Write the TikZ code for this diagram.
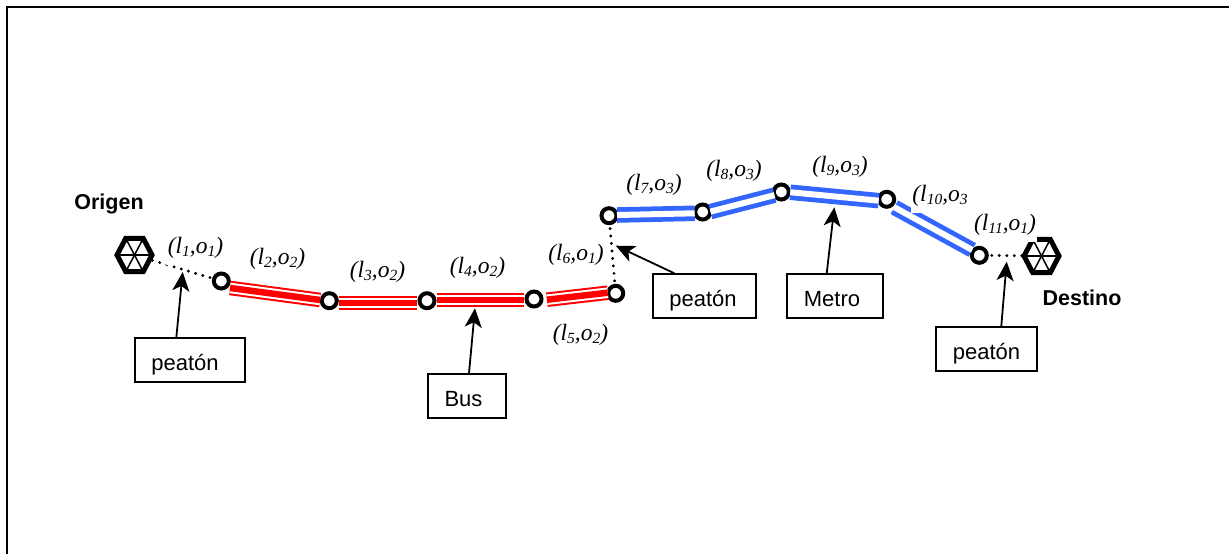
\documentclass[tikz,border=0pt]{standalone}
\usepackage{fontspec}
\setmainfont{Liberation Sans}
\newfontfamily\pairfont{Liberation Serif}
\usetikzlibrary{arrows.meta, shapes.geometric}
\newcommand{\lsub}[1]{\raisebox{-3.5pt}{\fontsize{15.5pt}{15.5pt}\selectfont #1}}
\tikzset{
    stopnode/.style = {circle, draw, fill=white, line width=4pt, minimum size=15pt, inner sep=0pt, outer sep=0pt},
    hexnode/.style = {regular polygon, regular polygon sides=6, draw, line width=5pt, minimum size=35pt, inner sep=0pt, outer sep=0pt, yscale=1.1, transform shape},
    spoke/.style = {line width=1.5pt},
    walkline/.style = {line width=3.2pt, line cap=round, dash pattern=on 0pt off 7.5pt},
    busline/.style = {red, line width=14.5pt, postaction={draw, white, line width=10.5pt}, postaction={draw, red, line width=6.5pt}},
    metroline/.style = {metroblue, line width=15.5pt, postaction={draw, white, line width=6pt}},
    pairlabel/.style = {anchor=base, fill=white, inner xsep=1.5pt, inner ysep=0pt, text depth=12pt, font=\pairfont\itshape\fontsize{23.5pt}{27pt}\selectfont},
    placelabel/.style = {anchor=base, font=\bfseries\fontsize{21.5pt}{25pt}\selectfont},
    modebox/.style = {draw, line width=1.5pt, minimum height=44pt, inner sep=0pt, text height=20pt, text depth=0pt, font=\fontsize{22pt}{25pt}\selectfont},
    pointer/.style = {line width=1.8pt, -{Stealth[length=19pt, width=17pt, inset=5pt]}}
}
\definecolor{metroblue}{HTML}{3366FF}
\begin{document}
\begin{tikzpicture}[x=1pt, y=-1pt]
    \useasboundingbox
        (0,0) rectangle (1229,554);
    \draw
        [line width=2pt] (1229,7)--(7,7)--(7,554);

    \node[hexnode] (origen) at (134.5,255) {};
    \node[hexnode] (destino) at (1041.5,256) {};
    \node[stopnode] (stopa) at (221.3,281) {};
    \node[stopnode] (stopb) at (329.3,300.7) {};
    \node[stopnode] (stopc) at (427,300.7) {};
    \node[stopnode] (stopd) at (534,299) {};
    \node[stopnode] (stope) at (615.7,293.3) {};
    \node[stopnode] (stopf) at (609,215.7) {};
    \node[stopnode] (stopg) at (702.7,212) {};
    \node[stopnode] (stoph) at (781.3,192) {};
    \node[stopnode] (stopi) at (886.7,199.3) {};
    \node[stopnode] (stopj) at (979.3,255.3) {};

    \draw[spoke] (origen.corner 1)--(origen.corner 4);
    \draw[spoke] (origen.corner 2)--(origen.corner 5);
    \draw[spoke] (origen.corner 3)--(origen.corner 6);
    \draw[spoke] (destino.corner 1)--(destino.corner 4);
    \draw[spoke] (destino.corner 2)--(destino.corner 5);
    \draw[spoke] (destino.corner 3)--(destino.corner 6);

    \draw[walkline, shorten <=3pt, shorten >=4pt] (origen)--(stopa);
    \draw[walkline, shorten <=5pt, shorten >=5pt] (stope)--(stopf);
    \draw[walkline, shorten <=5pt] (stopj)--(destino);

    \draw[busline, shorten <=8.8pt, shorten >=9.3pt] ([yshift=-5.8pt]stopa.center)--([yshift=-.5pt]stopb.center);
    \draw[busline, shorten <=9.7pt, shorten >=10pt] ([yshift=-2.3pt]stopb.center)--([yshift=-2.3pt]stopc.center);
    \draw[busline, shorten <=9.5pt, shorten >=10pt] ([yshift=.7pt]stopc.center)--([yshift=-1pt]stopd.center);
    \draw[busline, shorten <=13pt, shorten >=8pt] ([yshift=-2.2pt]stopd.center)--([yshift=1.5pt]stope.center);

    \draw[metroline, shorten <=8pt, shorten >=8pt] ([yshift=.5pt]stopf.center)--([yshift=-1.1pt]stopg.center);
    \draw[metroline, shorten <=8pt, shorten >=7pt] ([yshift=-1.6pt]stopg.center)--([yshift=-1.4pt]stoph.center);
    \draw[metroline, shorten <=9pt, shorten >=8pt] ([yshift=.6pt]stoph.center)--([yshift=-2.1pt]stopi.center);
    \draw[metroline, shorten <=8.7pt, shorten >=8pt] ([yshift=-3.8pt]stopi.center)--([yshift=1.5pt]stopj.center);

    \node[pairlabel] (pairone) at (195.5,253) {(l\lsub{1},o\lsub{1})};
    \node[pairlabel] (pairtwo) at (277.5,264) {(l\lsub{2},o\lsub{2})};
    \node[pairlabel] (pairthree) at (377.5,277) {(l\lsub{3},o\lsub{2})};
    \node[pairlabel] (pairfour) at (477.5,273) {(l\lsub{4},o\lsub{2})};
    \node[pairlabel] (pairfive) at (580.5,340) {(l\lsub{5},o\lsub{2})};
    \node[pairlabel] (pairsix) at (576,260) {(l\lsub{6},o\lsub{1})};
    \node[pairlabel] (pairseven) at (654,190) {(l\lsub{7},o\lsub{3})};
    \node[pairlabel] (paireight) at (734,176) {(l\lsub{8},o\lsub{3})};
    \node[pairlabel] (pairnine) at (840,172) {(l\lsub{9},o\lsub{3})};
    \node[pairlabel] (pairten) at (940,201) {(l\lsub{10},o\lsub{3}};
    \node[pairlabel] (paireleven) at (1005,230) {(l\lsub{11},o\lsub{1})};

    \node[placelabel] (origenlabel) at (109,209) {Origen};
    \node[placelabel] (destinolabel) at (1082,305) {Destino};

    \node[modebox, minimum width=110pt] (peatona) at (190,360) {peatón\kern10pt};
    \node[modebox, minimum width=78pt] (bus) at (467,396) {Bus\kern7pt};
    \node[modebox, minimum width=103pt] (peatonb) at (704.5,296) {peatón\kern3pt};
    \node[modebox, minimum width=96pt] (metro) at (835,296) {Metro\kern6pt};
    \node[modebox, minimum width=101pt] (peatonc) at (986.5,349) {peatón};

    \coordinate (tipa) at (182.7,272);
    \coordinate (tipb) at (475,308.3);
    \coordinate (tipc) at (615.7,245.7);
    \coordinate (tipd) at (834.3,207.3);
    \coordinate (tipe) at (1006.7,261.7);

    \draw[pointer] (peatona.121)--(tipa);
    \draw[pointer] (bus.85)--(tipb);
    \draw[pointer] (peatonb.143)--(tipc);
    \draw[pointer] (metro.110)--(tipd);
    \draw[pointer] (peatonc.57)--(tipe);
\end{tikzpicture}
\end{document}
